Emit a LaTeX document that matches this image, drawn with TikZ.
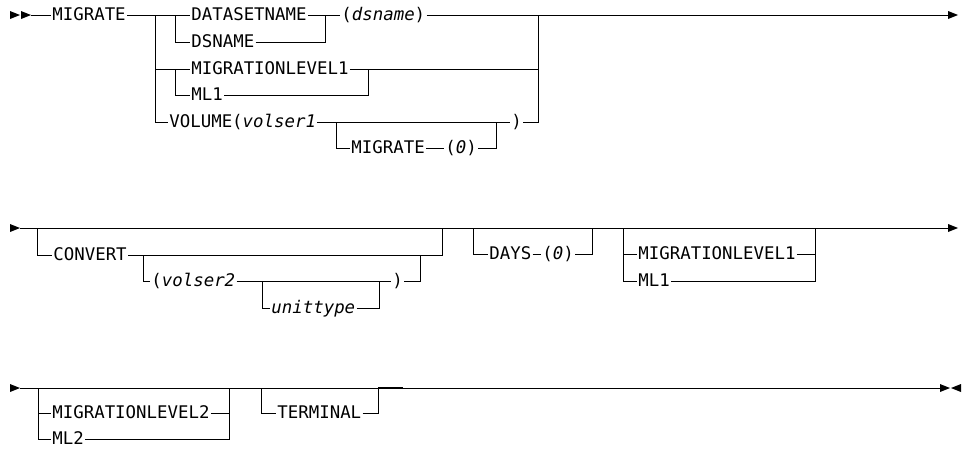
\documentclass[tikz,border=0pt]{standalone}
\usepackage{fontspec}
\newfontfamily\rrfont{DejaVu Sans Mono}
\tikzset{
  rail/.style={line width=1pt, black},
  kw/.style={inner sep=1.2pt, anchor=base west, font=\rrfont\fontsize{17.4}{20}\selectfont},
}
\newcommand{\va}[1]{\textit{#1}}
\newcommand{\rtri}[2]{\fill (#1,#2-4) -- (#1+10,#2) -- (#1,#2+4) -- cycle;}
\begin{document}
\begin{tikzpicture}[x=1pt,y=-1pt]
\useasboundingbox (0,0) rectangle (962,450);
% ---------- Row 1 ----------
\rtri{10}{15}\rtri{21}{15}
\node[kw] (mig) at (51,20.5) {MIGRATE};
\node[kw] (dsn) at (190,20.5) {DATASETNAME};
\node[kw] (dsnm) at (340,20.5) {(\va{dsname})};
\node[kw] (dsn2) at (190,47.5) {DSNAME};
\node[kw] (mlv) at (190,74.5) {MIGRATIONLEVEL1};
\node[kw] (mla) at (190,100.5) {ML1};
\node[kw] (vol) at (168,127.5) {VOLUME(\va{volser1}};
\node[kw] (rp1) at (510,127.5) {)};
\node[kw] (mig2) at (350,153.5) {MIGRATE};
\node[kw] (z1) at (444,153.5) {(\va{0})};
\coordinate (e1) at (958,15);
\draw[rail] (31,15) -- (mig.west |- 0,15);
\draw[rail] (mig.east |- 0,15) -- (dsn.west |- 0,15);
\draw[rail] (dsn.east |- 0,15) -- (dsnm.west |- 0,15);
\draw[rail] (dsnm.east |- 0,15) -- (948,15);
\fill (948,11) -- (e1) -- (948,19) -- cycle;
\draw[rail] (155,15) -- (155,122) -- (vol.west |- 0,122);
\draw[rail] (175,15) -- (175,42) -- (dsn2.west |- 0,42);
\draw[rail] (dsn2.east |- 0,42) -- (325,42) -- (325,15);
\draw[rail] (155,69) -- (mlv.west |- 0,69);
\draw[rail] (mlv.east |- 0,69) -- (538,69);
\draw[rail] (175,69) -- (175,95) -- (mla.west |- 0,95);
\draw[rail] (mla.east |- 0,95) -- (368,95) -- (368,69);
\draw[rail] (vol.east |- 0,122) -- (rp1.west |- 0,122);
\draw[rail] (rp1.east |- 0,122) -- (538,122) -- (538,15);
\draw[rail] (336,122) -- (336,148) -- (mig2.west |- 0,148);
\draw[rail] (mig2.east |- 0,148) -- (z1.west |- 0,148);
\draw[rail] (z1.east |- 0,148) -- (496,148) -- (496,122);
% ---------- Row 2 ----------
\rtri{10}{228}
\node[kw] (conv) at (52,260.5) {CONVERT};
\node[kw] (vs2) at (150,286.5) {(\va{volser2}};
\node[kw] (rp2) at (391,286.5) {)};
\node[kw] (ut) at (270,313.5) {\va{unittype}};
\node[kw] (days) at (488,259.5) {DAYS};
\node[kw] (z2) at (541,259.5) {(\va{0})};
\node[kw] (mlv2) at (637,259.5) {MIGRATIONLEVEL1};
\node[kw] (mlb) at (637,286.5) {ML1};
\coordinate (e2) at (958,228);
\draw[rail] (20,228) -- (948,228);
\fill (948,224) -- (e2) -- (948,232) -- cycle;
\draw[rail] (37,228) -- (37,255) -- (conv.west |- 0,255);
\draw[rail] (conv.east |- 0,255) -- (442,255) -- (442,228);
\draw[rail] (143,255) -- (143,281) -- (vs2.west |- 0,281);
\draw[rail] (vs2.east |- 0,281) -- (rp2.west |- 0,281);
\draw[rail] (rp2.east |- 0,281) -- (420,281) -- (420,255);
\draw[rail] (262,281) -- (262,308) -- (ut.west |- 0,308);
\draw[rail] (ut.east |- 0,308) -- (379,308) -- (379,281);
\draw[rail] (473,228) -- (473,254) -- (days.west |- 0,254);
\draw[rail] (days.east |- 0,254) -- (z2.west |- 0,254);
\draw[rail] (z2.east |- 0,254) -- (592,254) -- (592,228);
\draw[rail] (623,228) -- (623,281) -- (mlb.west |- 0,281);
\draw[rail] (623,254) -- (mlv2.west |- 0,254);
\draw[rail] (mlv2.east |- 0,254) -- (815,254);
\draw[rail] (mlb.east |- 0,281) -- (815,281) -- (815,228);
% ---------- Row 3 ----------
\rtri{10}{388}
\node[kw] (mlv3) at (51,418.5) {MIGRATIONLEVEL2};
\node[kw] (mlc) at (51,444.5) {ML2};
\node[kw] (term) at (276,418.5) {TERMINAL};
\coordinate (e3) at (950,388);
\coordinate (e3b) at (951,388);
\draw[rail] (20,388) -- (940,388);
\fill (940,384) -- (e3) -- (940,392) -- cycle;
\fill (961,384) -- (e3b) -- (961,392) -- cycle;
\draw[rail] (38,388) -- (38,439) -- (mlc.west |- 0,439);
\draw[rail] (38,413) -- (mlv3.west |- 0,413);
\draw[rail] (mlv3.east |- 0,413) -- (229,413);
\draw[rail] (mlc.east |- 0,439) -- (229,439) -- (229,388);
\draw[rail] (261,388) -- (261,413) -- (term.west |- 0,413);
\draw[rail] (term.east |- 0,413) -- (378,413) -- (378,388);
\draw[line width=1.8pt] (378,388) -- (403,388);
\end{tikzpicture}
\end{document}
